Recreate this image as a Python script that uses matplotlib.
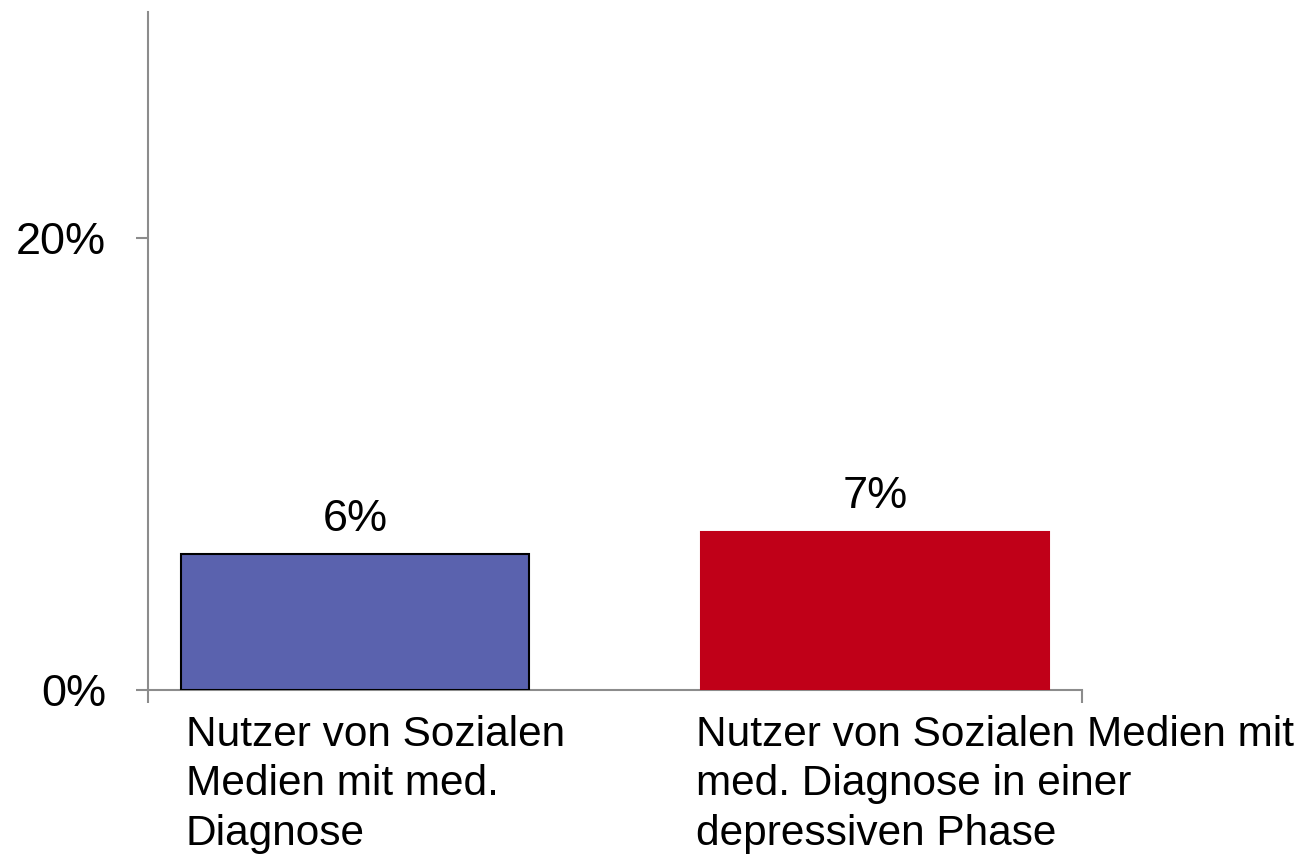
import matplotlib.pyplot as plt
import matplotlib.transforms as mtransforms

plt.rcParams['font.family'] = ['Liberation Sans', 'DejaVu Sans']

# Daten
categories = ["Nutzer von Sozialen\nMedien mit med.\nDiagnose",
              "Nutzer von Sozialen Medien mit\nmed. Diagnose in einer\ndepressiven Phase"]
values = [6, 7]
value_labels = ["6%", "7%"]
y_ticks = [0, 20]
y_tick_labels = ["0%", "20%"]

colors = ["#5A62AE", "#C00018"]
edges = ["#000000", "#C00018"]

fig = plt.figure(figsize=(13.04, 8.56), dpi=100)
ax = fig.add_axes([148 / 1304, 166 / 856, 934 / 1304, 678 / 856])

x = list(range(len(values)))
width = 0.67
bars = ax.bar(x, values, width=width, color=colors, edgecolor=edges, linewidth=1.5, zorder=3)

xlim = (-0.398, 1.398)
ax.set_xlim(*xlim)
ax.set_ylim(0, 30)

# Achsen
for side in ["top", "right"]:
    ax.spines[side].set_visible(False)
for side in ["left", "bottom"]:
    ax.spines[side].set_color("#8c8c8c")
    ax.spines[side].set_linewidth(1.5)

ax.set_yticks(y_ticks)
ax.set_yticklabels(y_tick_labels, fontsize=32.5)
ax.set_xticks(list(xlim))
ax.set_xticklabels(["", ""])
ax.tick_params(axis="both", color="#8c8c8c", width=1.5, length=9)
ax.tick_params(axis="y", pad=21)

# Wertebeschriftungen
for xi, v, lab in zip(x, values, value_labels):
    ax.annotate(lab, (xi, v), xytext=(0, 17), textcoords="offset points",
                ha="center", va="baseline", fontsize=32.5)

# Kategorien (linksbündig unter den Balken)
trans = mtransforms.blended_transform_factory(ax.transData, ax.transAxes)
offsets = [0.01, -0.01]
for xi, cat, off in zip(x, categories, offsets):
    ax.text(xi - width / 2 + off, -0.037, cat, transform=trans, ha="left", va="top",
            fontsize=30.5, linespacing=1.3)

fig.savefig("out.png", dpi=100)
